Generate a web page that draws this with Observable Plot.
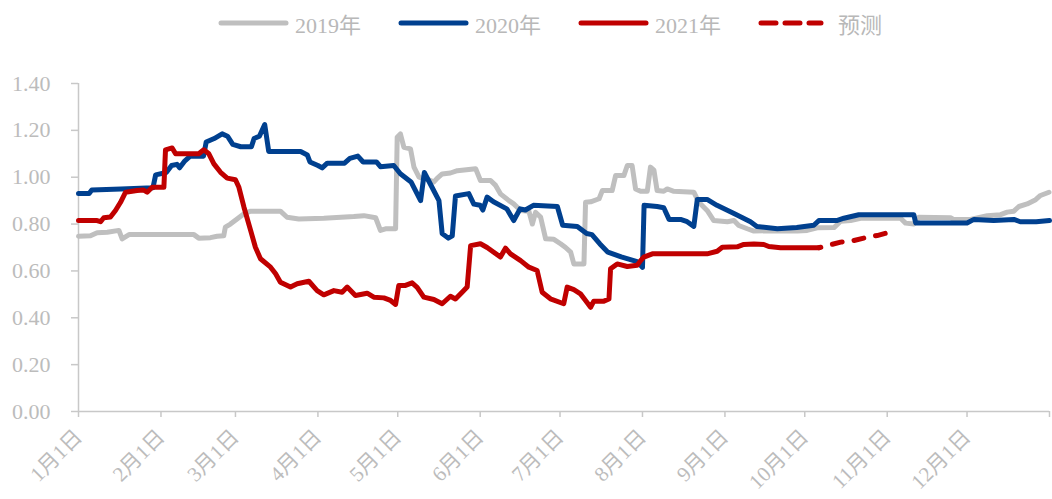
<!DOCTYPE html>
<html>
<head>
<meta charset="utf-8">
<script src="https://cdn.jsdelivr.net/npm/d3@7"></script>
<script src="https://cdn.jsdelivr.net/npm/@observablehq/plot@0.6"></script>
<style>
  html, body { margin: 0; padding: 0; background: #fff; }
  #wrap { position: relative; width: 1052px; height: 499px; overflow: hidden; }
  #legend { position: relative; height: 46px; font-family: "Liberation Serif", "Times New Roman", "Noto Sans CJK SC", serif; font-size: 22px; color: #b8b8b8; }
  .item { position: absolute; top: 10px; height: 26px; display: flex; align-items: center; }
  .item svg { margin-right: 6px; }
  #chart svg { display: block; }
</style>
</head>
<body>
<div id="wrap">
  <div id="legend"></div>
  <div id="chart"></div>
</div>
<script>
// ---- data: [day of year (0 = 1月1日), value] ----
const series2019 = [[0,0.748],[4.5,0.75],[7,0.763],[10.8,0.765],[15.2,0.773],[16.4,0.737],[19,0.755],[43.4,0.755],[45.2,0.74],[49.6,0.742],[52.1,0.748],[54.6,0.75],[55.2,0.787],[57.1,0.80],[59.6,0.822],[62.2,0.844],[64.7,0.855],[75.9,0.855],[78.4,0.829],[82.8,0.822],[92.2,0.825],[103.5,0.832],[107.3,0.836],[111.7,0.827],[113.5,0.773],[115.4,0.78],[119.2,0.78],[119.8,1.171],[121,1.185],[122.3,1.128],[124.8,1.121],[126.1,1.043],[128,1.0],[132.3,0.986],[133.6,0.98],[134.8,0.995],[136.7,1.014],[139.8,1.018],[142.4,1.028],[149.3,1.036],[151.1,0.986],[154.9,0.986],[156.8,0.965],[158.6,0.929],[161.8,0.90],[163.6,0.886],[166.2,0.858],[169.3,0.855],[170.6,0.80],[171.8,0.85],[173.7,0.83],[175.6,0.737],[178.7,0.735],[181.2,0.716],[183.1,0.70],[185,0.68],[186.2,0.63],[190,0.63],[190.6,0.893],[192.5,0.895],[195.7,0.908],[196.9,0.943],[200.6,0.943],[201.9,1.007],[205,1.007],[206.3,1.05],[208.1,1.05],[209.4,0.95],[211.3,0.94],[213.8,0.94],[215,1.043],[216.3,1.03],[217.5,0.943],[220,0.94],[221.3,0.95],[223.8,0.94],[231.3,0.936],[233.2,0.893],[236.3,0.858],[238.8,0.815],[243.9,0.81],[246.4,0.815],[248.2,0.794],[251.4,0.78],[253.9,0.77],[261.4,0.772],[270.2,0.77],[273.9,0.773],[277.7,0.784],[284,0.785],[286.5,0.812],[290.2,0.815],[294,0.825],[309,0.825],[310.9,0.804],[314,0.80],[315.9,0.829],[327.8,0.827],[329.1,0.819],[335.3,0.82],[341.6,0.836],[346.6,0.84],[349.1,0.851],[351.6,0.855],[353.5,0.875],[356.6,0.886],[359.8,0.904],[361.6,0.922],[364.8,0.936]];

const series2020 = [[0,0.93],[4,0.93],[5,0.945],[16,0.95],[28,0.955],[29,1.01],[33,1.02],[35,1.05],[37,1.055],[38,1.04],[40,1.07],[42,1.09],[47,1.09],[48,1.15],[51,1.165],[54,1.185],[56,1.175],[58,1.14],[61,1.13],[65,1.13],[66,1.165],[68,1.175],[70,1.225],[71.5,1.11],[75,1.11],[83.5,1.11],[86,1.095],[87,1.065],[90,1.05],[91.6,1.04],[93.5,1.06],[100,1.06],[102,1.08],[105,1.09],[107,1.065],[112,1.065],[113.5,1.045],[118.5,1.05],[121,1.015],[125,0.98],[128.6,0.90],[130,1.02],[132.3,0.97],[135.5,0.90],[136.7,0.76],[139,0.74],[140.5,0.75],[141.7,0.92],[146.7,0.93],[148.6,0.885],[151,0.88],[152,0.86],[153.6,0.915],[156,0.895],[161,0.865],[163.6,0.815],[166,0.865],[168,0.86],[171,0.88],[180,0.875],[182,0.795],[187.5,0.79],[191,0.76],[193,0.755],[196,0.715],[199,0.68],[204,0.66],[210,0.64],[212,0.615],[212.6,0.88],[217.5,0.875],[220,0.87],[222,0.82],[226.3,0.82],[228.8,0.81],[231.3,0.79],[232.6,0.905],[236.3,0.905],[240,0.88],[246.4,0.845],[252.6,0.81],[255,0.79],[262.7,0.78],[270,0.785],[276.4,0.795],[278.3,0.815],[285,0.815],[287.7,0.825],[293.3,0.84],[314,0.84],[314.7,0.805],[334,0.805],[336.6,0.82],[344,0.815],[351.6,0.82],[354,0.81],[360,0.81],[365,0.815]];

const series2021 = [[0,0.815],[7,0.815],[8.3,0.81],[9.5,0.827],[12,0.83],[13.9,0.858],[15.8,0.893],[17.7,0.936],[22,0.943],[24.5,0.945],[25.8,0.936],[27.7,0.957],[32.1,0.957],[32.7,1.117],[35.2,1.125],[36.5,1.10],[45.2,1.10],[47.1,1.117],[49,1.10],[50.9,1.057],[53.4,1.021],[55.9,0.996],[59,0.989],[60.3,0.957],[62.2,0.872],[64.7,0.773],[66.5,0.701],[68.4,0.652],[72.2,0.616],[74.1,0.588],[75.9,0.552],[79.7,0.531],[82.2,0.545],[86.6,0.556],[89.7,0.516],[92.2,0.498],[96,0.516],[99.1,0.509],[101,0.531],[104.1,0.495],[108.5,0.505],[111,0.488],[114.8,0.485],[117.3,0.474],[119.2,0.457],[120.4,0.538],[122.9,0.538],[125.4,0.549],[127.3,0.53],[129.8,0.488],[133.6,0.478],[136.7,0.46],[139.8,0.492],[141.7,0.48],[144.2,0.509],[146.1,0.531],[147.4,0.708],[151.1,0.716],[153.6,0.70],[156.1,0.68],[158.6,0.659],[160.5,0.697],[162.4,0.673],[166.2,0.644],[169.3,0.616],[172.4,0.602],[174.3,0.509],[177.4,0.481],[182.4,0.46],[183.7,0.531],[186.2,0.52],[188.7,0.502],[190.6,0.474],[192.5,0.445],[193.7,0.471],[197.5,0.471],[199.4,0.48],[200,0.609],[202.5,0.63],[206.3,0.619],[210,0.624],[211.3,0.644],[212.5,0.659],[215.7,0.673],[236.3,0.673],[240.1,0.684],[242,0.701],[247.6,0.703],[250.1,0.713],[253.9,0.715],[257.6,0.713],[259.5,0.704],[263.9,0.699],[278.3,0.699]];

const seriesForecast = [[278.3,0.699],[281.5,0.708],[286.5,0.723],[291.5,0.73],[296.5,0.744],[300.2,0.751],[304,0.763]];

const monthTickDays = [0,31,59,90,120,151,181,212,243,273,304,334,365];
const monthLabels = ["1月1日","2月1日","3月1日","4月1日","5月1日","6月1日","7月1日","8月1日","9月1日","10月1日","11月1日","12月1日",""];
const yTicks = [0,0.2,0.4,0.6,0.8,1.0,1.2,1.4];

const legendNames = ["2019年","2020年","2021年","预测"];
const colors = { y2019: "#bfbfbf", y2020: "#00408f", y2021: "#c00000" };

// ---- legend ----
const legendDefs = [
  {name: legendNames[0], color: colors.y2019, dash: null, left: 218},
  {name: legendNames[1], color: colors.y2020, dash: null, left: 398},
  {name: legendNames[2], color: colors.y2021, dash: null, left: 578},
  {name: legendNames[3], color: colors.y2021, dash: "15 9", left: 758}
];
const legend = document.getElementById("legend");
for (const d of legendDefs) {
  const div = document.createElement("div");
  div.className = "item";
  div.style.left = d.left + "px";
  const w = d.dash ? 66 : 71;
  div.innerHTML = `<svg width="${w}" height="10"><line x1="3" y1="5" x2="${w-3}" y2="5" stroke="${d.color}" stroke-width="5" stroke-linecap="round" ${d.dash ? `stroke-dasharray="${d.dash}"` : ""}/></svg><span style="${d.dash ? 'margin-left:8px' : ''}">${d.name}</span>`;
  legend.appendChild(div);
}

// ---- chart ----
const toRows = arr => arr.map(([day, value]) => ({day, value}));
const axisColor = "#c8c8c8";
const font = "'Liberation Serif', 'Times New Roman', 'Noto Sans CJK SC', serif";

const chart = Plot.plot({
  width: 1052,
  height: 453,
  marginTop: 37,
  marginBottom: 88,
  marginLeft: 78,
  marginRight: 3,
  style: { fontFamily: font, fontSize: "21px", background: "transparent" },
  x: { domain: [0, 365], label: null },
  y: { domain: [0, 1.4], label: null },
  marks: [
    Plot.ruleX([0], {stroke: axisColor, strokeWidth: 1.5}),
    Plot.ruleY([0], {stroke: axisColor, strokeWidth: 1.5}),
    Plot.axisY({ticks: yTicks, tickFormat: d => d.toFixed(2), tickSize: 7, tickPadding: 21,
      stroke: axisColor, fill: "#bcbcbc", fontSize: 22, strokeWidth: 1.5, label: null}),
    Plot.axisX({ticks: monthTickDays, tickFormat: d => monthLabels[monthTickDays.indexOf(d)],
      tickRotate: -45, tickSize: 6, tickPadding: 16, stroke: axisColor, fill: "#bcbcbc",
      fontSize: 21, strokeWidth: 1.5, label: null}),
    Plot.line(toRows(series2019), {x: "day", y: "value", stroke: colors.y2019, strokeWidth: 5, strokeLinejoin: "round", strokeLinecap: "round"}),
    Plot.line(toRows(series2020), {x: "day", y: "value", stroke: colors.y2020, strokeWidth: 5, strokeLinejoin: "round", strokeLinecap: "round"}),
    Plot.line(toRows(series2021), {x: "day", y: "value", stroke: colors.y2021, strokeWidth: 5, strokeLinejoin: "round", strokeLinecap: "round"}),
    Plot.line(toRows(seriesForecast), {x: "day", y: "value", stroke: colors.y2021, strokeWidth: 5, strokeDasharray: "10 12", strokeDashoffset: -14, strokeLinecap: "round"})
  ]
});
document.getElementById("chart").appendChild(chart);
</script>
</body>
</html>
